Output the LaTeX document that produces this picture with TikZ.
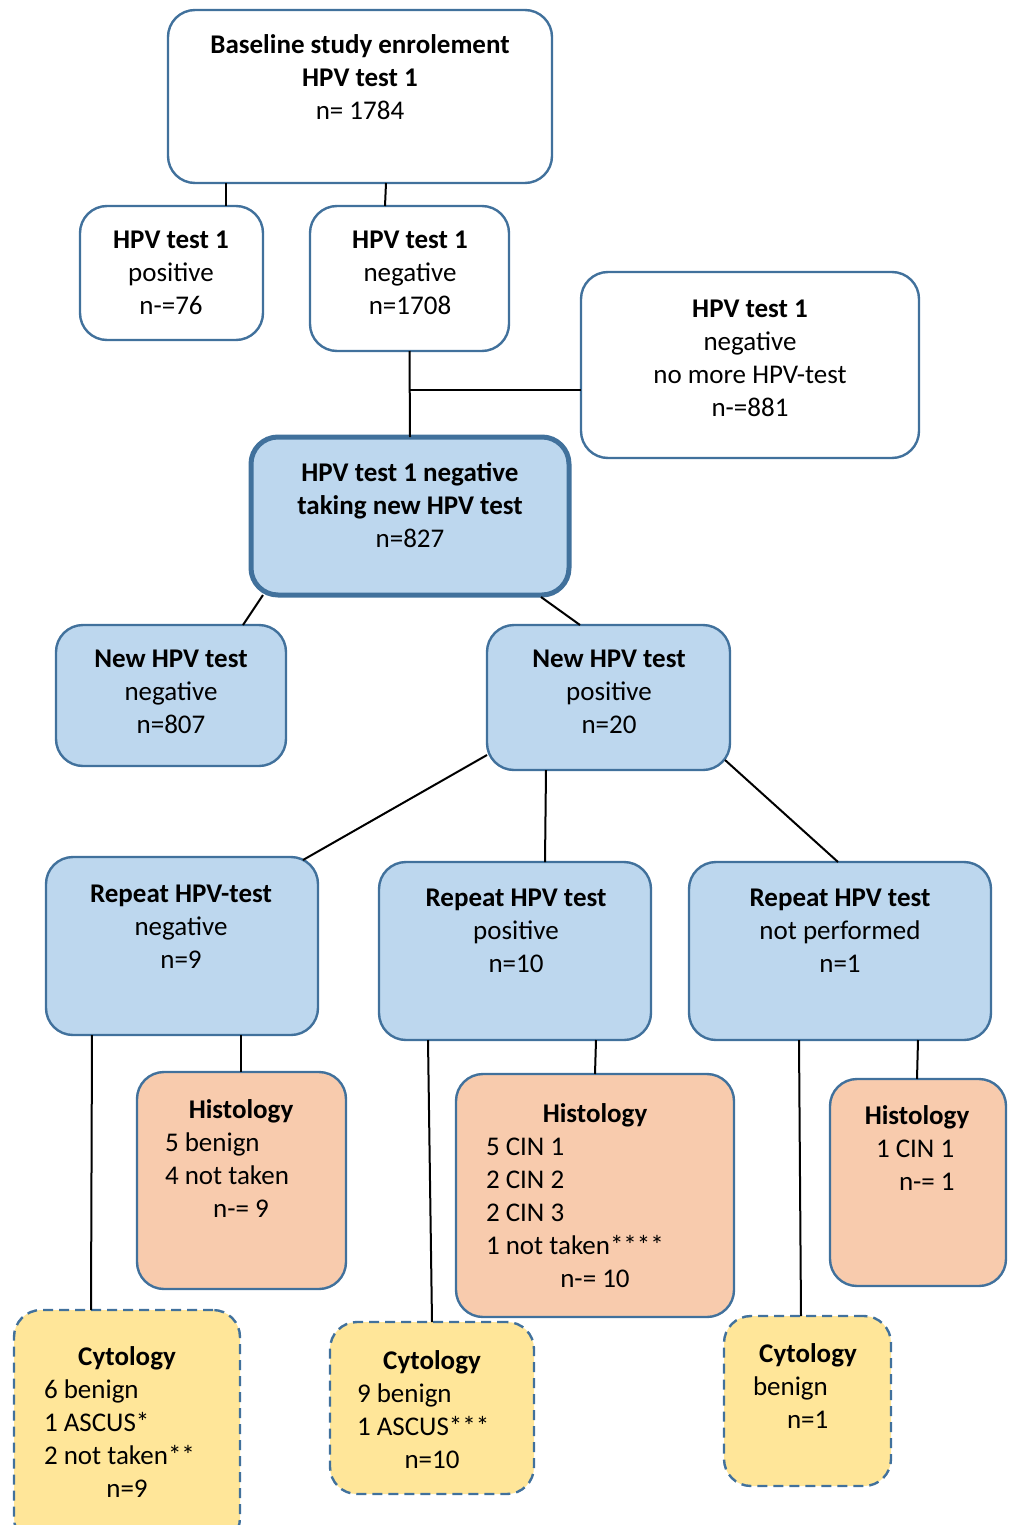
\documentclass[tikz,border=0pt]{standalone}
\usepackage{fontspec}
\setmainfont{Carlito}
\definecolor{bord}{RGB}{65,113,156}
\definecolor{lblue}{RGB}{189,215,238}
\definecolor{peach}{RGB}{248,203,173}
\definecolor{lyell}{RGB}{255,230,153}
\newcommand\boxnode[6]{\node[#1, minimum width={#4-#2}, minimum height={#5-#3}] (#6) at ({(#2+#4)/2},{(#3+#5)/2}) {};}
\newcommand\lft[2]{\makebox[#1][l]{#2}}
\newcommand\ctr[2]{\makebox[#1][c]{#2}}
\begin{document}
\begin{tikzpicture}[x=1pt,y=-1pt,
  basebox/.style={rectangle, rounded corners=27pt, draw=bord, line width=2.4pt, inner sep=0pt, outer sep=0pt},
  wbox/.style={basebox, fill=white},
  bbox/.style={basebox, fill=lblue},
  thickbox/.style={basebox, fill=lblue, line width=5pt},
  hbox/.style={basebox, fill=peach},
  cbox/.style={basebox, fill=lyell, dash pattern=on 10pt off 6pt},
  txt/.style={inner sep=0pt, align=center, font=\fontsize{27}{33}\selectfont},
  conn/.style={draw=black, line width=2pt}]
\useasboundingbox (0,0) rectangle (1012,1525);
% boxes
\boxnode{wbox}{168}{10}{552}{183}{top}
\boxnode{wbox}{80}{206}{263}{340}{pos}
\boxnode{wbox}{310}{206}{509}{351}{neg}
\boxnode{wbox}{581}{272}{919}{458}{nomore}
\boxnode{thickbox}{251}{437}{569}{595}{take}
\boxnode{bbox}{56}{625}{286}{766}{nneg}
\boxnode{bbox}{487}{625}{730}{770}{npos}
\boxnode{bbox}{46}{857}{318}{1035}{rneg}
\boxnode{bbox}{379}{862}{651}{1040}{rpos}
\boxnode{bbox}{689}{862}{991}{1040}{rnp}
\boxnode{hbox}{137}{1072}{346}{1289}{hA}
\boxnode{hbox}{456}{1074}{734}{1317}{hB}
\boxnode{hbox}{830}{1079}{1006}{1286}{hC}
\boxnode{cbox}{14}{1310}{240}{1545}{cA}
\boxnode{cbox}{330}{1322}{534}{1494}{cB}
\boxnode{cbox}{724}{1316}{891}{1486}{cC}
% texts
\node[txt] (t0) at (360,77.5) {\textbf{Baseline study enrolement}\\\textbf{HPV test 1}\\n= 1784};
\node[txt] (t1) at (171,272.5) {\textbf{HPV test 1}\\positive\\n-=76};
\node[txt] (t2) at (410,273) {\textbf{HPV test 1}\\negative\\n=1708};
\node[txt] (t3) at (750,358) {\textbf{HPV test 1}\\negative\\no more HPV-test\\n-=881};
\node[txt] (t4) at (410,505.5) {\textbf{HPV test 1 negative}\\\textbf{taking new HPV test}\\n=827};
\node[txt] (t5) at (171,691.5) {\textbf{New HPV test}\\negative\\n=807};
\node[txt] (t6) at (609,692) {\textbf{New HPV test}\\positive\\n=20};
\node[txt] (t7) at (181,926.5) {\textbf{Repeat HPV-test}\\negative\\n=9};
\node[txt] (t8) at (516,931) {\textbf{Repeat HPV test}\\positive\\n=10};
\node[txt] (t9) at (840,931) {\textbf{Repeat HPV test}\\not performed\\n=1};
\node[txt] (th1) at (241,1159) {\ctr{152pt}{\textbf{Histology}}\\\lft{152pt}{5 benign}\\\lft{152pt}{4 not taken}\\\ctr{152pt}{n-= 9}};
\node[txt] (th2) at (595,1196) {\ctr{218pt}{\textbf{Histology}}\\\lft{218pt}{5 CIN 1}\\\lft{218pt}{2 CIN 2}\\\lft{218pt}{2 CIN 3}\\\lft{218pt}{1 not taken****}\\\ctr{218pt}{n-= 10}};
\node[txt] (th3) at (917,1148) {\ctr{82pt}{\textbf{Histology}}\\\lft{82pt}{1 CIN 1}\\\lft{82pt}{\hspace*{23pt}n-= 1}};
\node[txt] (tc1) at (127,1422) {\ctr{166pt}{\textbf{Cytology}}\\\lft{166pt}{6 benign}\\\lft{166pt}{1 ASCUS*}\\\lft{166pt}{2 not taken**}\\\ctr{166pt}{n=9}};
\node[txt] (tc2) at (432,1410) {\ctr{150pt}{\textbf{Cytology}}\\\lft{150pt}{9 benign}\\\lft{150pt}{1 ASCUS***}\\\ctr{150pt}{n=10}};
\node[txt] (tc3) at (808,1386) {\ctr{110pt}{\textbf{Cytology}}\\\lft{110pt}{benign}\\\lft{110pt}{\hspace*{34pt}n=1}};
% connectors
\draw[conn] (226,0 |- top.south) -- (226,0 |- pos.north);
\draw[conn] (386,0 |- top.south) -- (385,0 |- neg.north);
\draw[conn] (neg.south) -- (take.north);
\coordinate (junc) at (410,390);
\draw[conn] (junc) -- (nomore.west |- junc);
\draw[conn] (263,0 |- take.south) -- (243,0 |- nneg.north);
\draw[conn] (541,597) -- (580,0 |- npos.north);
\draw[conn] (npos.west |- 0,755) -- (303,860);
\draw[conn] (546,0 |- npos.south) -- (545,0 |- rpos.north);
\draw[conn] (725,760) -- (838,0 |- rnp.north);
\draw[conn] (92,0 |- rneg.south) -- (91,0 |- cA.north);
\draw[conn] (241,0 |- rneg.south) -- (241,0 |- hA.north);
\draw[conn] (428,0 |- rpos.south) -- (432,0 |- cB.north);
\draw[conn] (596,0 |- rpos.south) -- (595,0 |- hB.north);
\draw[conn] (799,0 |- rnp.south) -- (801,0 |- cC.north);
\draw[conn] (918,0 |- rnp.south) -- (917,0 |- hC.north);
\end{tikzpicture}
\end{document}
